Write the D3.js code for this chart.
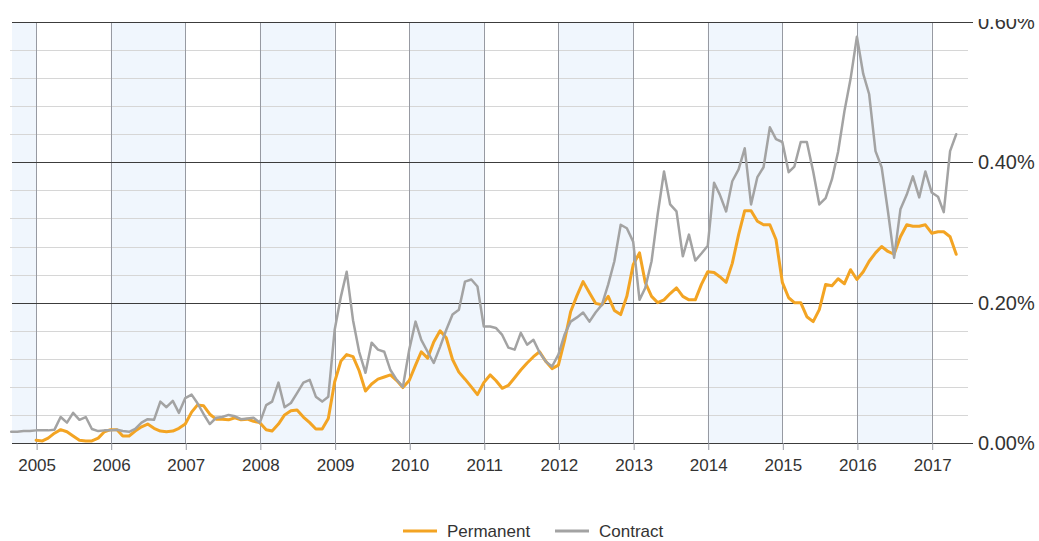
<!DOCTYPE html>
<html>
<head>
<meta charset="utf-8">
<script src="https://cdn.jsdelivr.net/npm/d3@7/dist/d3.min.js"></script>
<style>
  html, body { margin: 0; padding: 0; background: #fff; }
  svg { display: block; font-family: "Liberation Sans", Arial, sans-serif; }
</style>
</head>
<body>
<svg id="chart" width="1039" height="541"></svg>
<script>
// Monthly share of job ads (%), Permanent vs Contract
const seriesNames = ["Permanent", "Contract"];
const seriesColors = ["#f3a423", "#a3a3a3"];

const permanentStart = "2005-01";
const permanentValues = [
  0.004, 0.003, 0.007, 0.014, 0.019, 0.016, 0.010, 0.004, 0.003, 0.003, 0.007, 0.016, // 2005
  0.019, 0.019, 0.010, 0.010, 0.017, 0.023, 0.027, 0.021, 0.017, 0.016, 0.017, 0.021, // 2006
  0.027, 0.044, 0.054, 0.053, 0.041, 0.034, 0.034, 0.033, 0.036, 0.033, 0.034, 0.031, // 2007
  0.029, 0.019, 0.017, 0.027, 0.040, 0.046, 0.047, 0.037, 0.029, 0.020, 0.020, 0.035, // 2008
  0.087, 0.117, 0.126, 0.123, 0.103, 0.074, 0.084, 0.091, 0.094, 0.097, 0.089, 0.079, // 2009
  0.089, 0.111, 0.130, 0.121, 0.144, 0.160, 0.150, 0.119, 0.101, 0.091, 0.080, 0.069, // 2010
  0.086, 0.097, 0.089, 0.078, 0.082, 0.093, 0.104, 0.114, 0.123, 0.130, 0.116, 0.106, // 2011
  0.111, 0.147, 0.187, 0.210, 0.230, 0.214, 0.199, 0.197, 0.209, 0.189, 0.183, 0.209, // 2012
  0.254, 0.271, 0.229, 0.209, 0.200, 0.204, 0.213, 0.221, 0.209, 0.204, 0.204, 0.226, // 2013
  0.244, 0.243, 0.237, 0.229, 0.256, 0.297, 0.331, 0.331, 0.316, 0.311, 0.311, 0.290, // 2014
  0.229, 0.207, 0.200, 0.200, 0.180, 0.173, 0.190, 0.226, 0.224, 0.234, 0.227, 0.247, // 2015
  0.233, 0.244, 0.259, 0.271, 0.280, 0.273, 0.269, 0.294, 0.311, 0.309, 0.309, 0.311, // 2016
  0.299, 0.301, 0.301, 0.294, 0.269                                                     // 2017
];

const contractStart = "2004-09";
const contractValues = [
  0.016, 0.016, 0.017, 0.017,                                                           // 2004
  0.018, 0.018, 0.018, 0.019, 0.037, 0.029, 0.043, 0.033, 0.037, 0.020, 0.017, 0.018, // 2005
  0.018, 0.019, 0.017, 0.016, 0.020, 0.029, 0.034, 0.033, 0.059, 0.051, 0.060, 0.043, // 2006
  0.064, 0.069, 0.057, 0.041, 0.027, 0.036, 0.037, 0.040, 0.038, 0.034, 0.035, 0.036, // 2007
  0.029, 0.054, 0.059, 0.086, 0.051, 0.057, 0.071, 0.086, 0.090, 0.066, 0.059, 0.066, // 2008
  0.161, 0.209, 0.244, 0.175, 0.130, 0.100, 0.143, 0.133, 0.130, 0.104, 0.090, 0.080, // 2009
  0.133, 0.173, 0.147, 0.130, 0.114, 0.137, 0.161, 0.183, 0.190, 0.230, 0.233, 0.223, // 2010
  0.166, 0.166, 0.164, 0.154, 0.136, 0.133, 0.157, 0.140, 0.147, 0.129, 0.116, 0.109, // 2011
  0.126, 0.155, 0.173, 0.179, 0.186, 0.173, 0.186, 0.197, 0.226, 0.259, 0.311, 0.306, // 2012
  0.287, 0.204, 0.221, 0.259, 0.326, 0.387, 0.340, 0.330, 0.266, 0.297, 0.260, 0.270, // 2013
  0.281, 0.371, 0.354, 0.330, 0.373, 0.390, 0.420, 0.340, 0.379, 0.393, 0.450, 0.433, // 2014
  0.429, 0.386, 0.394, 0.429, 0.429, 0.387, 0.340, 0.349, 0.376, 0.415, 0.473, 0.519, // 2015
  0.579, 0.526, 0.497, 0.416, 0.393, 0.330, 0.264, 0.333, 0.354, 0.380, 0.350, 0.387, // 2016
  0.357, 0.351, 0.329, 0.416, 0.440                                                     // 2017
];

const yearTicks = [2005, 2006, 2007, 2008, 2009, 2010, 2011, 2012, 2013, 2014, 2015, 2016, 2017];
const yMajorTicks = [0, 0.2, 0.4, 0.6];
const yMinorStep = 0.04;

// ---- helpers ----
const parseMonth = d3.timeParse("%Y-%m");
function toSeries(start, values) {
  const t0 = parseMonth(start);
  return values.map((v, i) => ({ date: d3.timeMonth.offset(t0, i), value: v }));
}
const series = [
  { name: seriesNames[0], color: seriesColors[0], width: 3, data: toSeries(permanentStart, permanentValues) },
  { name: seriesNames[1], color: seriesColors[1], width: 2.5, data: toSeries(contractStart, contractValues) }
];

// ---- layout ----
const plot = { left: 12, right: 965, top: 22, bottom: 443 };
const svg = d3.select("#chart");

const x = d3.scaleTime()
  .domain([new Date(2004, 8, 5), new Date(2017, 5, 13)])
  .range([plot.left, plot.right]);
const y = d3.scaleLinear()
  .domain([0, 0.6])
  .range([plot.bottom, plot.top]);

// alternating year bands
const bandYears = d3.range(2004, 2018).filter(yr => yr % 2 === 0);
svg.append("g").selectAll("rect")
  .data(bandYears)
  .join("rect")
  .attr("x", yr => Math.max(plot.left, x(new Date(yr, 0, 1))))
  .attr("width", yr => Math.min(plot.right, x(new Date(yr + 1, 0, 1))) - Math.max(plot.left, x(new Date(yr, 0, 1))))
  .attr("y", plot.top)
  .attr("height", plot.bottom - plot.top)
  .attr("fill", "#f0f6fd");

// minor horizontal grid
const minorTicks = d3.range(yMinorStep, 0.6, yMinorStep)
  .filter(v => Math.abs(v / 0.2 - Math.round(v / 0.2)) > 1e-6);
svg.append("g").selectAll("line")
  .data(minorTicks)
  .join("line")
  .attr("x1", plot.left - 2).attr("x2", plot.right + 3)
  .attr("y1", d => Math.round(y(d)) + 0.5).attr("y2", d => Math.round(y(d)) + 0.5)
  .attr("stroke", "#d6d6d6").attr("stroke-width", 1);

// vertical year lines
svg.append("g").selectAll("line")
  .data(yearTicks)
  .join("line")
  .attr("x1", yr => Math.round(x(new Date(yr, 0, 1))) + 0.5)
  .attr("x2", yr => Math.round(x(new Date(yr, 0, 1))) + 0.5)
  .attr("y1", plot.top).attr("y2", plot.bottom)
  .attr("stroke", "#979aa2").attr("stroke-width", 1);

// major horizontal grid
svg.append("g").selectAll("line")
  .data(yMajorTicks)
  .join("line")
  .attr("x1", plot.left).attr("x2", plot.right + 8)
  .attr("y1", d => Math.round(y(d)) + 0.5).attr("y2", d => Math.round(y(d)) + 0.5)
  .attr("stroke", "#3c3c3c").attr("stroke-width", 1.2);

// x axis (ticks + year labels)
const xAxis = d3.axisBottom(x)
  .tickValues(yearTicks.map(yr => new Date(yr, 0, 1)))
  .tickFormat(d3.timeFormat("%Y"))
  .tickSize(7)
  .tickPadding(9);
const gx = svg.append("g")
  .attr("transform", `translate(0.5,${plot.bottom})`)
  .call(xAxis);
gx.select(".domain").remove();
gx.selectAll(".tick line").attr("stroke", "#979aa2");
gx.selectAll(".tick text")
  .attr("fill", "#333")
  .style("font-size", "17px")
  .style("font-family", "\"Liberation Sans\", Arial, sans-serif");

// y axis labels on the right (top label sits against the upper edge)
svg.append("defs").append("clipPath").attr("id", "yclip")
  .append("rect").attr("x", 0).attr("y", 19).attr("width", 1039).attr("height", 522);
const yAxis = d3.axisRight(y)
  .tickValues(yMajorTicks)
  .tickFormat(d => d.toFixed(2) + "%")
  .tickSize(0)
  .tickPadding(3);
const gy = svg.append("g")
  .attr("clip-path", "url(#yclip)")
  .append("g")
  .attr("transform", `translate(${plot.right + 10},0)`)
  .call(yAxis);
gy.select(".domain").remove();
gy.selectAll(".tick text")
  .attr("fill", "#333")
  .style("font-size", "20px")
  .style("font-family", "\"Liberation Sans\", Arial, sans-serif");

// series lines
const line = d3.line()
  .x(d => x(d.date))
  .y(d => y(d.value));
svg.append("g").selectAll("path")
  .data(series)
  .join("path")
  .attr("d", s => line(s.data))
  .attr("fill", "none")
  .attr("stroke", s => s.color)
  .attr("stroke-width", s => s.width)
  .attr("stroke-linejoin", "round")
  .attr("stroke-linecap", "round");

// legend
const legendItems = [
  { s: series[0], x: 403 },
  { s: series[1], x: 555 }
];
const lg = svg.append("g").selectAll("g")
  .data(legendItems)
  .join("g")
  .attr("transform", d => `translate(${d.x},531)`);
lg.append("line")
  .attr("x1", 0).attr("x2", 34)
  .attr("y1", 0).attr("y2", 0)
  .attr("stroke", d => d.s.color)
  .attr("stroke-width", 3);
lg.append("text")
  .attr("x", 44)
  .attr("y", 6)
  .attr("fill", "#333")
  .style("font-size", "17px")
  .text(d => d.s.name);
</script>
</body>
</html>
